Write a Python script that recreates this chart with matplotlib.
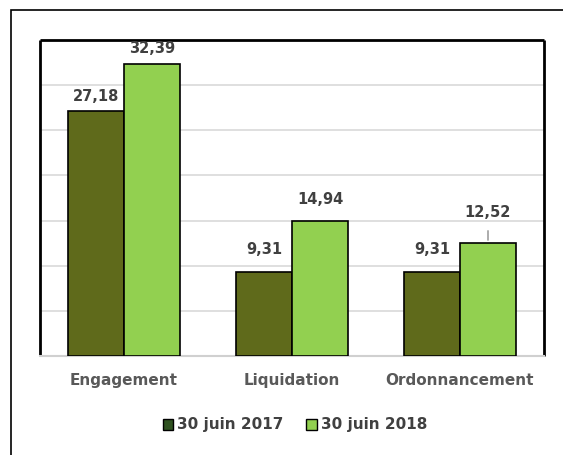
import matplotlib.pyplot as plt
import numpy as np
from matplotlib.patches import Rectangle

plt.rcParams["font.family"] = ["DejaVu Sans"]

categories = ["Engagement", "Liquidation", "Ordonnancement"]
series_names = ["30 juin 2017", "30 juin 2018"]
values_2017 = [27.18, 9.31, 9.31]
values_2018 = [32.39, 14.94, 12.52]

DARK = "#5f6a1b"
LIGHT = "#92d050"
LEGEND_DARK = "#2f5220"
TEXT = "#404040"

# label offsets above bar top, in pixels (label centre)
offsets_2017 = [14, 22, 22]
offsets_2018 = [15, 22, 30]


def fmt(v):
    return f"{v:.2f}".replace(".", ",")


def main():
    fig = plt.figure(figsize=(5.63, 4.55), dpi=100)
    W, H = 563, 455

    # outer frame (cropped on right/bottom)
    fig.patches.append(Rectangle((11 / W, -0.1), 1.2, 1 - 10 / H + 0.1,
                                 transform=fig.transFigure, fill=False,
                                 edgecolor="black", linewidth=1.2))

    ax = fig.add_axes([40 / W, (H - 356) / H, (544 - 40) / W, (356 - 40) / H])
    x = np.arange(len(categories))
    w = 1 / 3
    b1 = ax.bar(x - w / 2, values_2017, w, color=DARK, edgecolor="black",
                linewidth=1.2, zorder=3)
    b2 = ax.bar(x + w / 2, values_2018, w, color=LIGHT, edgecolor="black",
                linewidth=1.2, zorder=3)

    ax.set_xlim(-0.5, 2.5)
    ax.set_ylim(0, 35)
    ax.set_yticks(np.arange(0, 36, 5))
    ax.set_yticklabels([])
    ax.tick_params(axis="y", length=0)
    ax.tick_params(axis="x", length=0, pad=12)
    ax.grid(axis="y", color="#d9d9d9", linewidth=1.2, zorder=0)
    ax.set_axisbelow(True)
    ax.set_xticks(x)
    ax.set_xticklabels(categories, fontsize=11, fontweight="bold", color="#595959")

    for side in ["left", "top", "right"]:
        ax.spines[side].set_color("black")
        ax.spines[side].set_linewidth(2)
        ax.spines[side].set_capstyle("butt")
    ax.spines["bottom"].set_color("#d0d0d0")
    ax.spines["bottom"].set_linewidth(1.5)

    for bars, vals, offs in [(b1, values_2017, offsets_2017), (b2, values_2018, offsets_2018)]:
        for bar, v, off in zip(bars, vals, offs):
            cx = bar.get_x() + bar.get_width() / 2
            ax.annotate(fmt(v), (cx, v), xytext=(0, off * 72 / 100),
                        textcoords="offset points", ha="center", va="center",
                        fontsize=10.5, fontweight="bold", color=TEXT)
            if off >= 30:
                ax.annotate("", (cx, v), xytext=(0, 15 * 72 / 100),
                            textcoords="offset points",
                            arrowprops=dict(arrowstyle="-", color="#8c8c8c", lw=1))

    handles = [Rectangle((0, 0), 1, 1, facecolor=LEGEND_DARK, edgecolor="black"),
               Rectangle((0, 0), 1, 1, facecolor=LIGHT, edgecolor="black")]
    fig.legend(handles, series_names, loc="center", bbox_to_anchor=(295 / W, (H - 425) / H),
               ncol=2, frameon=False, handlelength=0.7, handleheight=0.7,
               handletextpad=0.25, columnspacing=1.5,
               prop={"size": 11, "weight": "bold"}, labelcolor=TEXT)

    fig.savefig("out.png", dpi=100)
    plt.close(fig)


if __name__ == "__main__":
    main()
